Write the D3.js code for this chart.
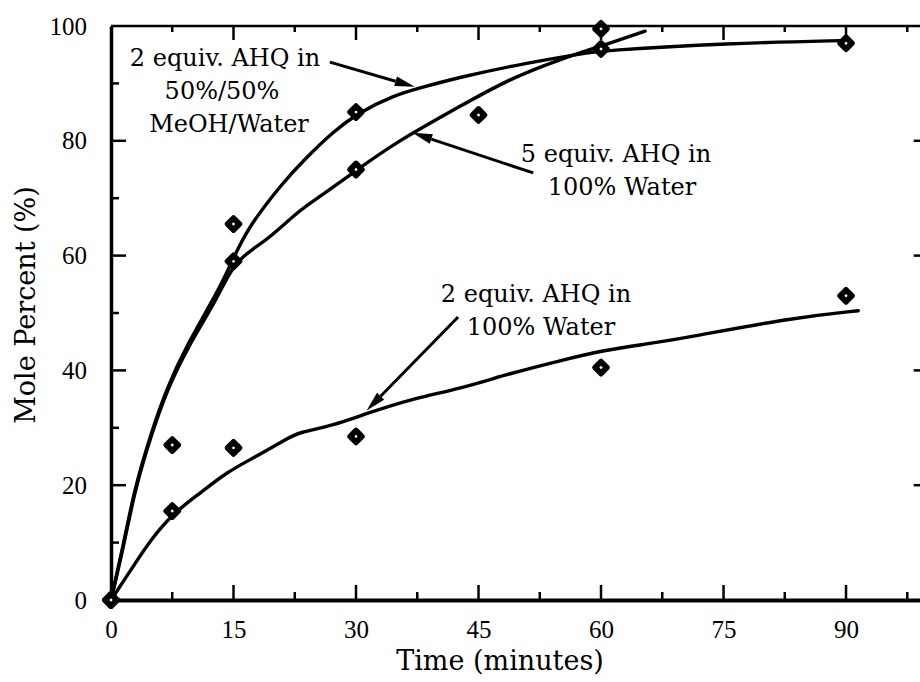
<!DOCTYPE html>
<html><head><meta charset="utf-8">
<script src="https://cdn.jsdelivr.net/npm/d3@7/dist/d3.min.js"></script>
<style>body{margin:0;background:#fff}svg{display:block}</style>
</head><body>
<svg id="chart" width="920" height="682"></svg>
<script>
// ---- data ----
const xTicksMajor = [0, 15, 30, 45, 60, 75, 90];
const yTicksMajor = [0, 20, 40, 60, 80, 100];
const xTicksMinor = [7.5, 22.5, 37.5, 52.5, 67.5, 82.5, 97.5];
const yTicksMinor = [10, 30, 50, 70, 90];

// measured points (time, mole %)
const pointsMeOH = [[0,0],[7.5,27],[15,65.5],[30,85],[60,96],[90,97]];
const points5eq  = [[0,0],[15,59],[30,75],[45,84.5],[60,99.5]];
const points2eq  = [[0,0],[7.5,15.5],[15,26.5],[30,28.5],[60,40.5],[90,53]];

// fitted curves
const curveMeOH = [[0,0],[1.5,9.5],[2.9,19.5],[4.8,28.6],[6.8,36.8],[9.3,44.5],[13,53.5],[15,59.5],[16.6,64.5],[21,72.7],[24,77.2],[27.2,81.6],[30.3,84.9],[34.6,87.9],[37.8,89.2],[42.7,91.1],[51,93.6],[57.8,95.2],[60,95.7],[75.4,97],[90.5,97.5]];
const curve5eq  = [[0,0],[1.5,9],[2.9,19],[4.8,28.2],[6.8,36.4],[9.3,43.8],[13,52.5],[15,58.6],[17.4,61.2],[19.5,63.2],[23,67.8],[25.4,70.1],[30.5,75.3],[34.5,79.4],[42.7,86],[48.8,90.8],[55,94.2],[60,96.5],[65.4,99.1]];
const curve2eq  = [[0,0],[2.7,5.8],[4.8,10.4],[7.6,15.1],[10.9,18.6],[14.2,22.3],[17.4,24.7],[21.9,28.4],[23.1,29.2],[27.2,30.4],[31.3,32.5],[37,35.1],[42.7,36.8],[48.9,39.5],[55,41.7],[60.2,43.5],[65.6,44.6],[69.7,45.5],[83.5,49.2],[91.5,50.4]];

const labelMeOH = ["2 equiv. AHQ in", "50%/50%", "MeOH/Water"];
const label5eq  = ["5 equiv. AHQ in", "100% Water"];
const label2eq  = ["2 equiv. AHQ in", "100% Water"];

const xTitle = "Time (minutes)";
const yTitle = "Mole Percent (%)";

// ---- drawing ----
const svg = d3.select("#chart");
const x = d3.scaleLinear().domain([0, 100]).range([111, 927.7]);
const y = d3.scaleLinear().domain([0, 100]).range([600, 26]);
const serif = "'DejaVu Serif', serif";
const numFont = "'Liberation Serif', 'Times New Roman', serif";

// frame
const g = svg.append("g");
g.append("line").attr("x1", x(0)).attr("x2", x(100)).attr("y1", y(100)).attr("y2", y(100)).attr("stroke", "#000").attr("stroke-width", 2.5);
g.append("line").attr("x1", x(100)).attr("x2", x(100)).attr("y1", y(0)).attr("y2", y(100)).attr("stroke", "#000").attr("stroke-width", 3);

// bottom axis
const xAxis = d3.axisBottom(x).tickValues(xTicksMajor).tickSize(0).tickPadding(20).tickFormat(d3.format("d"));
const gx = svg.append("g").attr("transform", `translate(0,${y(0)})`).call(xAxis);
gx.select(".domain").attr("stroke-width", 4);
gx.selectAll("text").attr("font-family", numFont).attr("font-size", 25).attr("fill", "#000");
// left axis
const yAxis = d3.axisLeft(y).tickValues(yTicksMajor).tickSize(0).tickPadding(24).tickFormat(d3.format("d"));
const gy = svg.append("g").attr("transform", `translate(${x(0)},0)`).call(yAxis);
gy.select(".domain").attr("stroke-width", 3.5);
gy.selectAll("text").attr("font-family", numFont).attr("font-size", 25).attr("fill", "#000");

// inward ticks
const tk = svg.append("g").attr("stroke", "#000").attr("stroke-width", 2.5);
xTicksMajor.filter(d => d > 0).forEach(d => {
  tk.append("line").attr("x1", x(d)).attr("x2", x(d)).attr("y1", y(0)).attr("y2", y(0) - 15);
  tk.append("line").attr("x1", x(d)).attr("x2", x(d)).attr("y1", y(100)).attr("y2", y(100) + 14);
});
xTicksMinor.forEach(d => {
  tk.append("line").attr("x1", x(d)).attr("x2", x(d)).attr("y1", y(0)).attr("y2", y(0) - 8);
  tk.append("line").attr("x1", x(d)).attr("x2", x(d)).attr("y1", y(100)).attr("y2", y(100) + 6);
});
yTicksMajor.filter(d => d > 0 && d < 100).forEach(d => {
  tk.append("line").attr("y1", y(d)).attr("y2", y(d)).attr("x1", x(0)).attr("x2", x(0) + 15);
  tk.append("line").attr("y1", y(d)).attr("y2", y(d)).attr("x1", x(100)).attr("x2", x(100) - 14);
});
yTicksMinor.forEach(d => {
  tk.append("line").attr("y1", y(d)).attr("y2", y(d)).attr("x1", x(0)).attr("x2", x(0) + 8);
  tk.append("line").attr("y1", y(d)).attr("y2", y(d)).attr("x1", x(100)).attr("x2", x(100) - 6);
});

// curves
const line = d3.line().x(d => x(d[0])).y(d => y(d[1])).curve(d3.curveBasis);
[curveMeOH, curve5eq, curve2eq].forEach(c => {
  svg.append("path").attr("d", line(c)).attr("fill", "none").attr("stroke", "#000").attr("stroke-width", 3.4).attr("stroke-linejoin", "round").attr("stroke-linecap", "round");
});

// markers
const allPts = [pointsMeOH, points5eq, points2eq].flat();
const mk = svg.append("g");
allPts.forEach(p => {
  const gp = mk.append("g").attr("transform", `translate(${x(p[0])},${y(p[1])}) rotate(45)`);
  gp.append("rect").attr("x", -7).attr("y", -7).attr("width", 14).attr("height", 14).attr("rx", 2.5).attr("fill", "#000");
  gp.append("rect").attr("x", -1.2).attr("y", -1.2).attr("width", 2.4).attr("height", 2.4).attr("fill", "#fff");
});

// annotations
function textBlock(lines, cx, baseline0, lh) {
  const t = svg.append("text").attr("font-family", serif).attr("font-size", 24).attr("fill", "#000").attr("text-anchor", "middle");
  lines.forEach((s, i) => t.append("tspan").attr("x", cx[i] !== undefined ? cx[i] : cx[0]).attr("y", baseline0 + i * lh).text(s));
}
textBlock(labelMeOH, [225, 222, 229], 66, 33);
textBlock(label5eq, [616, 622], 162, 33);
textBlock(label2eq, [536, 541], 302, 33);

function arrow(x1, y1, x2, y2) {
  const a = Math.atan2(y2 - y1, x2 - x1);
  const L = 20, W = 5;
  const bx = x2 - L * Math.cos(a), by = y2 - L * Math.sin(a);
  svg.append("line").attr("x1", x1).attr("y1", y1).attr("x2", bx).attr("y2", by).attr("stroke", "#000").attr("stroke-width", 3);
  const px = -Math.sin(a) * W, py = Math.cos(a) * W;
  svg.append("path").attr("d", `M${x2},${y2}L${bx + px},${by + py}L${bx - px},${by - py}Z`).attr("fill", "#000");
}
arrow(x(26.8), y(93.7), x(37.2), y(89.4));
arrow(x(51.7), y(74.4), x(36.9), y(81.4));
arrow(x(42.5), y(49.3), x(31.3), y(33));

// titles
svg.append("text").attr("x", 500).attr("y", 670).attr("text-anchor", "middle").attr("font-family", serif).attr("font-size", 27).text(xTitle);
svg.append("text").attr("transform", "translate(35,305) rotate(-90)").attr("text-anchor", "middle").attr("font-family", serif).attr("font-size", 27).text(yTitle);
</script>
</body></html>
